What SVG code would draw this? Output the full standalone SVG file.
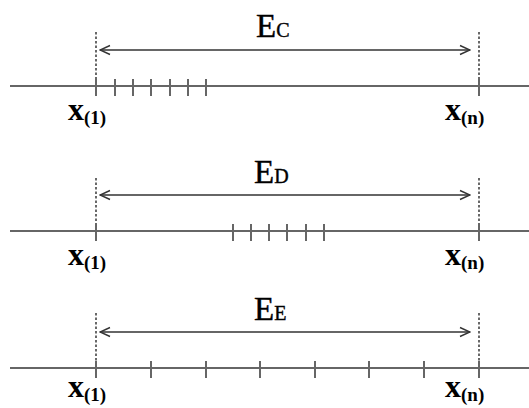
<svg xmlns="http://www.w3.org/2000/svg" width="529" height="408" viewBox="0 0 529 408">
<defs>
<marker id="ah" viewBox="0 0 12 12" refX="11" refY="6" markerWidth="12" markerHeight="12" markerUnits="userSpaceOnUse" orient="auto-start-reverse">
<path d="M1,1.5 L11,6 L1,10.5" fill="none" stroke="#333" stroke-width="1.4"/>
</marker>
</defs>
<style>
.axis{stroke:#666;stroke-width:2;fill:none}
.tick{stroke:#666;stroke-width:2}
.dash{stroke:#444;stroke-width:1.6;stroke-dasharray:2.5 2}
.arrow{stroke:#333;stroke-width:1.5;fill:none}
.E{font-family:"Liberation Serif",serif;font-size:33px;fill:#000;stroke:#000;stroke-width:0.4}
.Es{font-size:20px}
.x{font-family:"Liberation Serif",serif;font-weight:bold;font-size:32px;fill:#000}
.xs{font-size:19px}
</style>
<rect width="529" height="408" fill="#fff"/>
<g id="connectors">
<line class="arrow" x1="100" y1="50" x2="470" y2="50" marker-start="url(#ah)" marker-end="url(#ah)"/>
<line class="arrow" x1="100" y1="195" x2="470" y2="195" marker-start="url(#ah)" marker-end="url(#ah)"/>
<line class="arrow" x1="100" y1="332" x2="470" y2="332" marker-start="url(#ah)" marker-end="url(#ah)"/>
</g>
<g id="panel-C">
<line class="axis" x1="10" y1="86" x2="529" y2="86"/>
<line class="dash" x1="96" y1="32" x2="96" y2="86"/>
<line class="dash" x1="479" y1="32" x2="479" y2="86"/>
<g class="tick">
<line x1="96" y1="79" x2="96" y2="96"/>
<line x1="115" y1="79" x2="115" y2="96"/>
<line x1="133" y1="79" x2="133" y2="96"/>
<line x1="151" y1="79" x2="151" y2="96"/>
<line x1="170" y1="79" x2="170" y2="96"/>
<line x1="188" y1="79" x2="188" y2="96"/>
<line x1="206" y1="79" x2="206" y2="96"/>
<line x1="479" y1="79" x2="479" y2="96"/>
</g>
<text class="E" x="256" y="37">E<tspan class="Es">C</tspan></text>
<text class="x" x="68" y="120">x<tspan class="xs" dy="4">(1)</tspan></text>
<text class="x" x="445" y="120">x<tspan class="xs" dy="4">(n)</tspan></text>
</g>
<g id="panel-D">
<line class="axis" x1="10" y1="231" x2="529" y2="231"/>
<line class="dash" x1="96" y1="178" x2="96" y2="231"/>
<line class="dash" x1="479" y1="178" x2="479" y2="231"/>
<g class="tick">
<line x1="96" y1="224" x2="96" y2="241"/>
<line x1="233" y1="224" x2="233" y2="241"/>
<line x1="251" y1="224" x2="251" y2="241"/>
<line x1="269" y1="224" x2="269" y2="241"/>
<line x1="287" y1="224" x2="287" y2="241"/>
<line x1="306" y1="224" x2="306" y2="241"/>
<line x1="324" y1="224" x2="324" y2="241"/>
<line x1="479" y1="224" x2="479" y2="241"/>
</g>
<text class="E" x="254" y="183">E<tspan class="Es">D</tspan></text>
<text class="x" x="68" y="265">x<tspan class="xs" dy="4">(1)</tspan></text>
<text class="x" x="445" y="265">x<tspan class="xs" dy="4">(n)</tspan></text>
</g>
<g id="panel-E">
<line class="axis" x1="10" y1="368" x2="529" y2="368"/>
<line class="dash" x1="96" y1="313" x2="96" y2="368"/>
<line class="dash" x1="479" y1="313" x2="479" y2="368"/>
<g class="tick">
<line x1="96" y1="361" x2="96" y2="378"/>
<line x1="151" y1="361" x2="151" y2="378"/>
<line x1="206" y1="361" x2="206" y2="378"/>
<line x1="260" y1="361" x2="260" y2="378"/>
<line x1="315" y1="361" x2="315" y2="378"/>
<line x1="369" y1="361" x2="369" y2="378"/>
<line x1="424" y1="361" x2="424" y2="378"/>
<line x1="479" y1="361" x2="479" y2="378"/>
</g>
<text class="E" x="254" y="320">E<tspan class="Es">E</tspan></text>
<text class="x" x="68" y="397">x<tspan class="xs" dy="4">(1)</tspan></text>
<text class="x" x="445" y="397">x<tspan class="xs" dy="4">(n)</tspan></text>
</g>
</svg>
